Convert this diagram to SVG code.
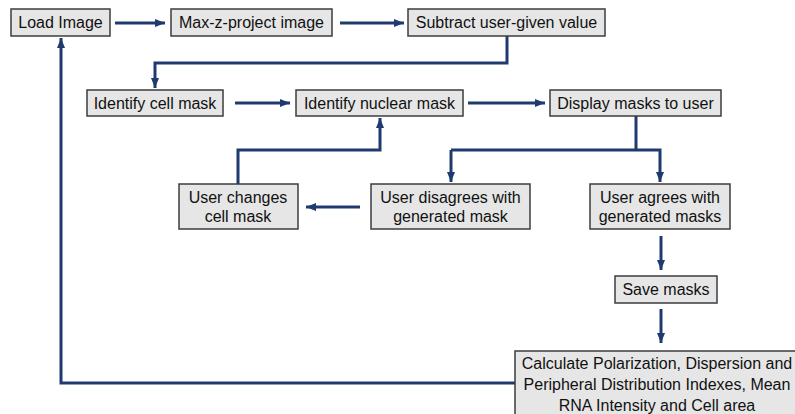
<svg xmlns="http://www.w3.org/2000/svg" width="795" height="414" viewBox="0 0 795 414">
<defs>
<style>
.box{fill:#e6e6e6;stroke:#3c3c3c;stroke-width:1.5}
.t{font-family:"Liberation Sans",Arial,sans-serif;font-size:16px;fill:#111;text-anchor:middle}
.c{fill:none;stroke:#1f3a6e;stroke-width:3}
.a{fill:none;stroke:#1f3a6e;stroke-width:3;marker-end:url(#ah)}
</style>
<marker id="ah" markerUnits="userSpaceOnUse" markerWidth="10" markerHeight="10" viewBox="0 0 10 10" refX="10" refY="5" orient="auto">
<path d="M0,1 L10,5 L0,9 Z" fill="#1f3a6e"/>
</marker>
</defs>
<rect width="795" height="414" fill="#fff"/>
<g id="connectors">
<path class="a" d="M115,23 H165"/>
<path class="a" d="M340,23 H404"/>
<path class="a" d="M507,36 V63 H155 V88"/>
<path class="a" d="M235,103 H290"/>
<path class="a" d="M468,103 H545"/>
<path class="c" d="M636,116 V150"/>
<path class="a" d="M451,150 H660 V182"/>
<path class="a" d="M451,150 V182"/>
<path class="a" d="M360,207 H306"/>
<path class="a" d="M238,184 V150 H380 V118"/>
<path class="a" d="M661,236 V270"/>
<path class="a" d="M661,309 V343"/>
<path class="a" d="M515,383 H61 V38"/>
</g>
<g id="load"><rect class="box" x="11" y="9" width="99" height="27"/><text class="t" x="60.5" y="28">Load Image</text></g>
<g id="maxz"><rect class="box" x="171" y="9" width="161" height="27"/><text class="t" x="251.5" y="28">Max-z-project image</text></g>
<g id="subtract"><rect class="box" x="408" y="9" width="197" height="27"/><text class="t" x="506.5" y="28">Subtract user-given value</text></g>
<g id="cellmask"><rect class="box" x="87" y="90" width="136" height="26"/><text class="t" x="155" y="109">Identify cell mask</text></g>
<g id="nuclearmask"><rect class="box" x="296" y="90" width="167" height="26"/><text class="t" x="379.5" y="109">Identify nuclear mask</text></g>
<g id="display"><rect class="box" x="550" y="90" width="171" height="26"/><text class="t" x="635.5" y="109">Display masks to user</text></g>
<g id="changes"><rect class="box" x="179" y="184" width="119" height="45"/><text class="t" x="238" y="203">User changes</text><text class="t" x="238" y="222">cell mask</text></g>
<g id="disagrees"><rect class="box" x="371" y="184" width="159" height="45"/><text class="t" x="450.5" y="203">User disagrees with</text><text class="t" x="450.5" y="222">generated mask</text></g>
<g id="agrees"><rect class="box" x="590" y="184" width="140" height="45"/><text class="t" x="660" y="203">User agrees with</text><text class="t" x="660" y="222">generated masks</text></g>
<g id="save"><rect class="box" x="615" y="276" width="102" height="27"/><text class="t" x="666" y="295">Save masks</text></g>
<g id="calculate"><rect class="box" x="515" y="351" width="284" height="66"/><text class="t" x="657" y="369">Calculate Polarization, Dispersion and</text><text class="t" x="657" y="390">Peripheral Distribution Indexes, Mean</text><text class="t" x="657" y="411">RNA Intensity and Cell area</text></g>
</svg>
